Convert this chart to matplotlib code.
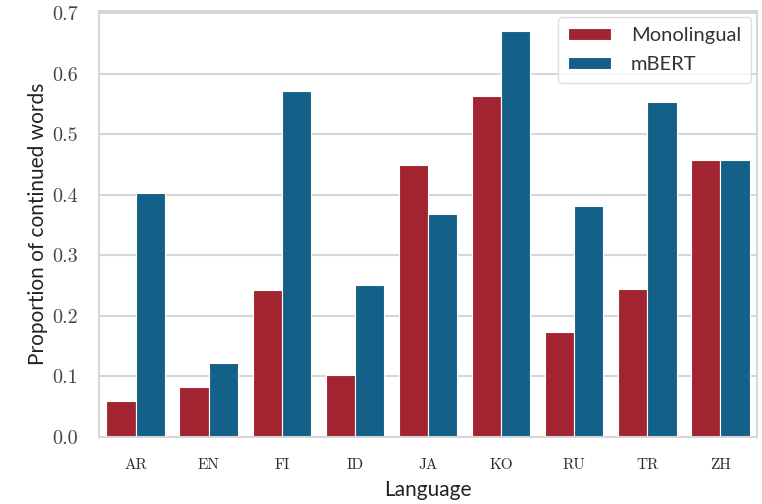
import matplotlib
matplotlib.use("Agg")
import matplotlib.pyplot as plt
import numpy as np

languages = ["AR", "EN", "FI", "ID", "JA", "KO", "RU", "TR", "ZH"]
monolingual = [0.059, 0.082, 0.243, 0.103, 0.450, 0.564, 0.173, 0.245, 0.458]
mbert = [0.403, 0.123, 0.571, 0.252, 0.369, 0.671, 0.382, 0.554, 0.458]
series_names = ["Monolingual", "mBERT"]
yticks = [0.0, 0.1, 0.2, 0.3, 0.4, 0.5, 0.6, 0.7]

red = "#a32431"
blue = "#156089"
grid_col = "#d6d6d6"

fig = plt.figure(figsize=(7.62, 5.04), dpi=100)
ax = fig.add_axes([99 / 762, 1 - 437 / 504, 658 / 762, 426 / 504])

x = np.arange(len(languages))
w = 0.4
ax.bar(x - w / 2, monolingual, width=w, color=red, edgecolor="white",
       linewidth=0.8, label=series_names[0], zorder=2)
ax.bar(x + w / 2, mbert, width=w, color=blue, edgecolor="white",
       linewidth=0.8, label=series_names[1], zorder=2)

ax.set_xlim(-0.5, len(languages) - 0.5)
ax.set_ylim(0, 0.704)
ax.set_yticks(yticks)
ax.set_yticklabels([f"{v:.1f}" for v in yticks], family="cmr10", fontsize=14.5,
                   color="#444444")
ax.set_xticks(x)
ax.set_xticklabels(languages, family="cmr10", fontsize=11, color="#2a2a2a")
ax.tick_params(axis="y", length=0, pad=15)
ax.tick_params(axis="x", length=0, pad=15)

ax.yaxis.grid(True, color=grid_col, linewidth=1.5, zorder=0)
ax.xaxis.grid(False)
ax.set_axisbelow(True)
for s in ax.spines.values():
    s.set_color(grid_col)
    s.set_linewidth(1.5)

ax.set_xlabel("Language", family="Lato", fontsize=15, color="#222222", labelpad=6)
ax.set_ylabel("Proportion of continued words", family="Lato", fontsize=15,
              color="#222222", labelpad=3)

leg = ax.legend(loc="upper right", prop={"family": "Lato", "size": 14.5},
                frameon=True, fancybox=True, borderaxespad=0.3,
                handlelength=2.1, handleheight=0.6, labelspacing=0.6,
                handletextpad=1.0, borderpad=0.5)
leg.get_frame().set_edgecolor(grid_col)
for t in leg.get_texts():
    t.set_color("#333333")

fig.savefig("out.png", dpi=100, facecolor="white")
